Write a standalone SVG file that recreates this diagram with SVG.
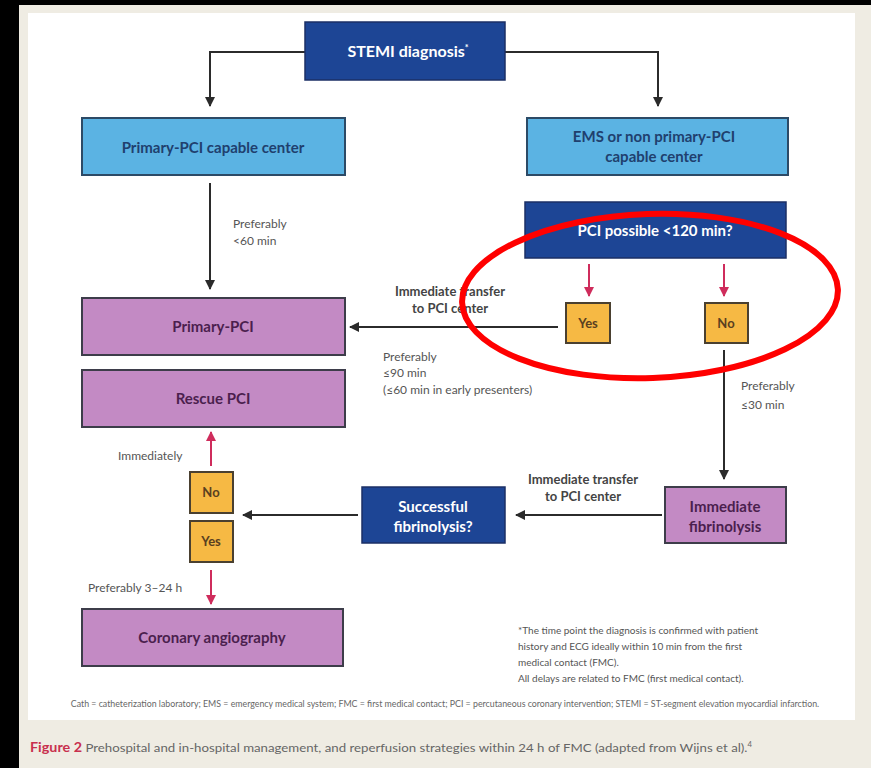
<svg xmlns="http://www.w3.org/2000/svg" width="871" height="768" viewBox="0 0 871 768">
<defs>
<marker id="ah" viewBox="0 0 10 10" refX="9" refY="5" markerWidth="5" markerHeight="5" orient="auto-start-reverse" markerUnits="strokeWidth">
<path d="M0,0 L10,5 L0,10 z" fill="#2b2b2b"/>
</marker>
<marker id="ahp" viewBox="0 0 10 10" refX="9" refY="5" markerWidth="5" markerHeight="5" orient="auto-start-reverse" markerUnits="strokeWidth">
<path d="M0,0 L10,5 L0,10 z" fill="#cf2c5c"/>
</marker>
<style>
.lb{fill:#5bb3e3;stroke:#2c4a66;stroke-width:2}
.db{fill:#1d4595;stroke:#1b2f66;stroke-width:1.5}
.pu{fill:#c38ac4;stroke:#3d3d4a;stroke-width:2}
.or{fill:#f6b944;stroke:#4a4030;stroke-width:2}
.t{font-family:Lato,"Open Sans",sans-serif;font-weight:bold;text-anchor:middle}
.tl{font-size:15px;fill:#20406e}
.tw{font-size:15px;fill:#ffffff}
.tp{font-size:15px;fill:#4b1f4e}
.to{font-size:13px;fill:#5a4020}
.lab{font-family:Lato,"Open Sans",sans-serif;font-size:12px;fill:#555}
.labb{font-family:Lato,"Open Sans",sans-serif;font-size:13px;fill:#444;font-weight:bold;text-anchor:middle}
.fn{font-family:Lato,"Open Sans",sans-serif;font-size:10px;fill:#555}
.ab{font-family:Lato,"Open Sans",sans-serif;font-size:8.8px;fill:#666;text-anchor:middle}
.c{fill:none;stroke:#2b2b2b;stroke-width:2}
.cp{fill:none;stroke:#cf2c5c;stroke-width:2}
</style>
</defs>
<rect x="0" y="0" width="871" height="768" fill="#efece3"/>
<rect x="0" y="0" width="19" height="768" fill="#000"/>
<rect x="0" y="0" width="871" height="5" fill="#000"/>
<rect x="28" y="13" width="827" height="707" fill="#ffffff"/>

<g id="connectors">
<path class="c" d="M305,52 H210 V106" marker-end="url(#ah)"/>
<path class="c" d="M505,52 H658 V106" marker-end="url(#ah)"/>
<path class="c" d="M210,183 V289" marker-end="url(#ah)"/>
<path class="cp" d="M589,264 V296" marker-end="url(#ahp)"/>
<path class="cp" d="M724,264 V296" marker-end="url(#ahp)"/>
<path class="c" d="M558,327 H350" marker-end="url(#ah)"/>
<path class="c" d="M724,350 V479" marker-end="url(#ah)"/>
<path class="c" d="M662,515 H516" marker-end="url(#ah)"/>
<path class="c" d="M358,515 H243" marker-end="url(#ah)"/>
<path class="cp" d="M211,466 V432" marker-end="url(#ahp)"/>
<path class="cp" d="M211,570 V604" marker-end="url(#ahp)"/>
</g>

<g id="stemi">
<rect class="db" x="305" y="22" width="200" height="58"/>
<text class="t tw" x="408" y="57" style="font-size:16px">STEMI diagnosis<tspan style="font-size:9px" dy="-6">*</tspan></text>
</g>
<g id="primary-capable">
<rect class="lb" x="82" y="118" width="263" height="57"/>
<text class="t tl" x="213" y="153">Primary-PCI capable center</text>
</g>
<g id="ems">
<rect class="lb" x="527" y="118" width="261" height="57"/>
<text class="t tl" x="654" y="142">EMS or non primary-PCI</text>
<text class="t tl" x="654" y="162">capable center</text>
</g>
<g id="pci-possible">
<rect class="db" x="525" y="202" width="261" height="56"/>
<text class="t tw" x="655" y="236">PCI possible &lt;120 min?</text>
</g>
<g id="yes1">
<rect class="or" x="566" y="303" width="44" height="40"/>
<text class="t to" x="588" y="328">Yes</text>
</g>
<g id="no1">
<rect class="or" x="705" y="303" width="43" height="40"/>
<text class="t to" x="726" y="328">No</text>
</g>
<g id="primary-pci">
<rect class="pu" x="82" y="298" width="263" height="57"/>
<text class="t tp" x="213" y="332">Primary-PCI</text>
</g>
<g id="rescue-pci">
<rect class="pu" x="82" y="370" width="263" height="57"/>
<text class="t tp" x="213" y="404">Rescue PCI</text>
</g>
<g id="fibrinolysis">
<rect class="pu" x="665" y="487" width="121" height="56"/>
<text class="t tp" x="725" y="512">Immediate</text>
<text class="t tp" x="725" y="532">fibrinolysis</text>
</g>
<g id="successful">
<rect class="db" x="362" y="487" width="143" height="56"/>
<text class="t tw" x="433" y="512">Successful</text>
<text class="t tw" x="433" y="532">fibrinolysis?</text>
</g>
<g id="no2">
<rect class="or" x="190" y="472" width="43" height="41"/>
<text class="t to" x="211" y="497">No</text>
</g>
<g id="yes2">
<rect class="or" x="190" y="521" width="43" height="41"/>
<text class="t to" x="211" y="546">Yes</text>
</g>
<g id="angiography">
<rect class="pu" x="82" y="609" width="261" height="57"/>
<text class="t tp" x="212" y="643">Coronary angiography</text>
</g>

<g id="labels">
<text class="lab" x="233" y="228">Preferably</text>
<text class="lab" x="233" y="245">&lt;60 min</text>
<text class="labb" x="450" y="296">Immediate transfer</text>
<text class="labb" x="450" y="313">to PCI center</text>
<text class="lab" x="383" y="361">Preferably</text>
<text class="lab" x="383" y="377">≤90 min</text>
<text class="lab" x="383" y="394">(≤60 min in early presenters)</text>
<text class="lab" x="741" y="390">Preferably</text>
<text class="lab" x="741" y="409">≤30 min</text>
<text class="labb" x="583" y="484">Immediate transfer</text>
<text class="labb" x="583" y="501">to PCI center</text>
<text class="lab" x="118" y="460">Immediately</text>
<text class="lab" x="88" y="592">Preferably 3–24 h</text>
<text class="fn" x="518" y="634">*The time point the diagnosis is confirmed with patient</text>
<text class="fn" x="518" y="650">history and ECG ideally within 10 min from the first</text>
<text class="fn" x="518" y="666">medical contact (FMC).</text>
<text class="fn" x="518" y="682">All delays are related to FMC (first medical contact).</text>
<text class="ab" x="445" y="707">Cath = catheterization laboratory; EMS = emergency medical system; FMC = first medical contact; PCI = percutaneous coronary intervention; STEMI = ST-segment elevation myocardial infarction.</text>
</g>
<g id="caption">
<text x="30" y="752" font-family="Lato,'Open Sans',sans-serif" font-size="12" fill="#666" textLength="722" lengthAdjust="spacingAndGlyphs"><tspan fill="#c8304e" font-weight="bold" font-size="13">Figure 2</tspan> Prehospital and in-hospital management, and reperfusion strategies within 24 h of FMC (adapted from Wijns et al).<tspan font-size="7" dy="-5">4</tspan></text>
</g>
<ellipse cx="650" cy="296" rx="188" ry="82" fill="none" stroke="#ff0000" stroke-width="6" transform="rotate(-2 650 296)"/>
</svg>
